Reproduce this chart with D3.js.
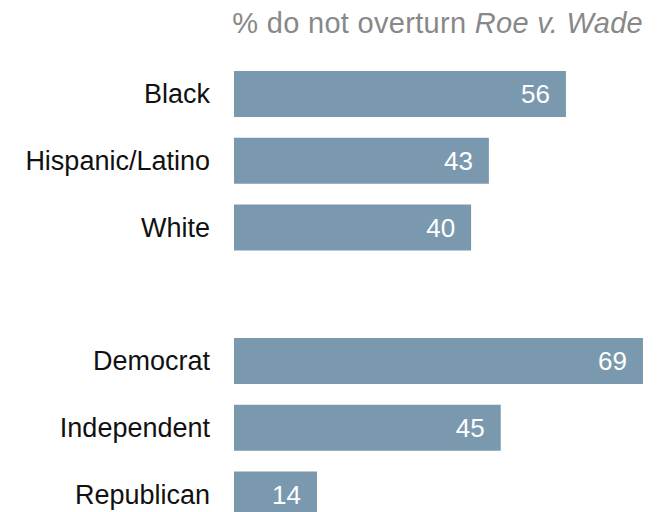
<!DOCTYPE html>
<html><head><meta charset="utf-8">
<script src="https://cdn.jsdelivr.net/npm/d3@7"></script>
<style>body{margin:0;background:#fff}svg{display:block}text{font-family:"Liberation Sans",Arial,Helvetica,sans-serif}</style>
</head><body>
<svg id="c" width="659" height="512"></svg>
<script>
const categories = ["Black","Hispanic/Latino","White","","Democrat","Independent","Republican"];
const values = [56,43,40,null,69,45,14];
const titleMain = "% do not overturn ";
const titleItalic = "Roe v. Wade";

const svg = d3.select("#c");
const x = d3.scaleLinear().domain([0,69]).range([234,643]);
const p = 0.311;
const step = 66.75;
const r0 = 71 - step*p/2;
const y = d3.scaleBand().domain(categories).range([r0, r0+categories.length*step]).paddingInner(p).paddingOuter(p/2);

const data = categories.map((c,i)=>({c, v: values[i]})).filter(d=>d.v!=null);

svg.append("text").attr("x",643).attr("y",33).attr("text-anchor","end")
  .attr("font-size",29).attr("letter-spacing",0.3).attr("fill","#888")
  .call(t=>{t.append("tspan").text(titleMain); t.append("tspan").attr("font-style","italic").text(titleItalic);});

svg.selectAll("rect.bar").data(data).join("rect").attr("class","bar")
  .attr("x",x(0)).attr("y",d=>y(d.c)).attr("width",d=>x(d.v)-x(0)).attr("height",y.bandwidth())
  .attr("fill","#7a99ae");

svg.selectAll("text.lab").data(data).join("text").attr("class","lab")
  .attr("x",210).attr("y",d=>y(d.c)+y.bandwidth()/2).attr("dy","0.35em")
  .attr("text-anchor","end").attr("font-size",27).attr("fill","#111").text(d=>d.c);

svg.selectAll("text.val").data(data).join("text").attr("class","val")
  .attr("x",d=>x(d.v)-16).attr("y",d=>y(d.c)+y.bandwidth()/2).attr("dy","0.35em")
  .attr("text-anchor","end").attr("font-size",26).attr("fill","#fff").text(d=>d.v);
</script>
</body></html>
